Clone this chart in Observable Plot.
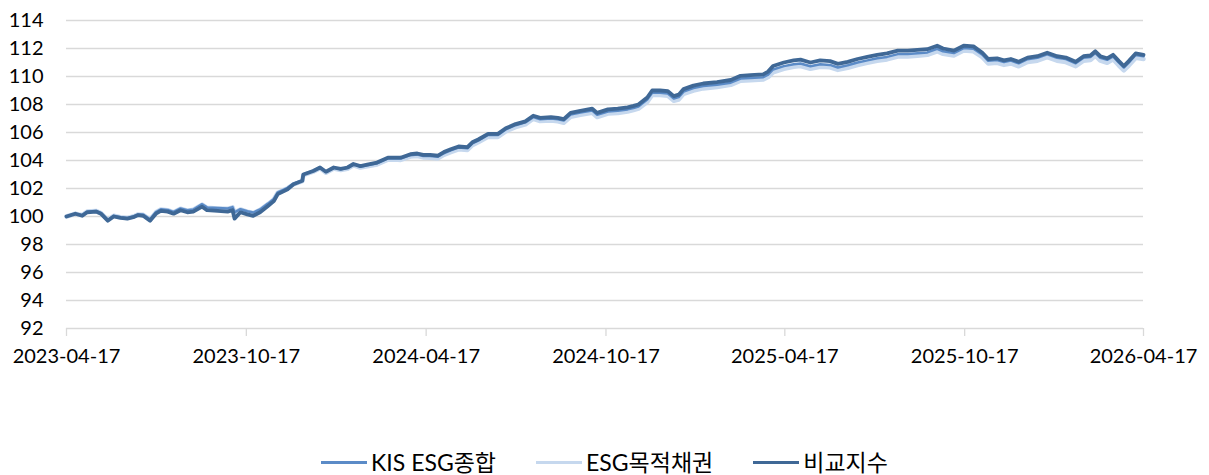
<!DOCTYPE html>
<html><head><meta charset="utf-8">
<script src="https://cdn.jsdelivr.net/npm/d3@7"></script>
<script src="https://cdn.jsdelivr.net/npm/@observablehq/plot@0.6"></script>
<style>
html,body{margin:0;padding:0;background:#fff;}
body{width:1209px;font-family:Lato,"Noto Sans CJK KR",sans-serif;}
#chart svg{display:block;}
#legend{display:flex;justify-content:center;align-items:center;gap:40px;margin-top:70px;height:24px;line-height:24px;font-size:23px;color:#000;font-family:Lato,"Noto Sans CJK KR",sans-serif;}
#legend .item{display:flex;align-items:center;gap:4px;white-space:nowrap;}
#legend .sw{width:46px;height:3px;display:inline-block;}
</style></head>
<body><div id="chart"></div><div id="legend"></div>
<script>
const dates = ["2023-04-17","2023-04-26","2023-05-03","2023-05-08","2023-05-17","2023-05-22","2023-05-29","2023-06-04","2023-06-11","2023-06-18","2023-06-24","2023-06-29","2023-07-04","2023-07-11","2023-07-17","2023-07-22","2023-07-29","2023-08-04","2023-08-11","2023-08-18","2023-08-24","2023-09-02","2023-09-07","2023-09-18","2023-09-28","2023-10-03","2023-10-05","2023-10-11","2023-10-18","2023-10-24","2023-10-31","2023-11-08","2023-11-14","2023-11-18","2023-11-28","2023-12-04","2023-12-13","2023-12-14","2023-12-24","2023-12-31","2024-01-06","2024-01-14","2024-01-21","2024-01-28","2024-02-03","2024-02-10","2024-02-17","2024-02-27","2024-03-09","2024-03-19","2024-03-22","2024-04-01","2024-04-08","2024-04-14","2024-04-21","2024-04-29","2024-05-05","2024-05-12","2024-05-20","2024-05-29","2024-06-03","2024-06-09","2024-06-19","2024-06-29","2024-07-07","2024-07-17","2024-07-27","2024-08-04","2024-08-11","2024-08-22","2024-08-29","2024-09-04","2024-09-11","2024-09-21","2024-10-03","2024-10-08","2024-10-19","2024-10-29","2024-11-08","2024-11-14","2024-11-19","2024-11-28","2024-12-03","2024-12-11","2024-12-19","2024-12-25","2024-12-30","2025-01-04","2025-01-14","2025-01-24","2025-02-07","2025-02-21","2025-03-03","2025-03-13","2025-03-26","2025-03-31","2025-04-05","2025-04-16","2025-04-26","2025-05-03","2025-05-13","2025-05-23","2025-06-02","2025-06-10","2025-06-20","2025-06-30","2025-07-10","2025-07-20","2025-07-30","2025-08-10","2025-08-20","2025-08-30","2025-09-09","2025-09-19","2025-09-25","2025-10-06","2025-10-16","2025-10-26","2025-11-04","2025-11-10","2025-11-19","2025-11-26","2025-12-03","2025-12-11","2025-12-20","2025-12-30","2026-01-09","2026-01-19","2026-01-28","2026-02-07","2026-02-15","2026-02-22","2026-02-27","2026-03-04","2026-03-11","2026-03-17","2026-03-23","2026-03-28","2026-04-02","2026-04-09","2026-04-17"];

const bench = [100.0,100.2,100.05,100.3,100.35,100.2,99.7,100.0,99.9,99.85,99.95,100.1,100.05,99.7,100.2,100.4,100.35,100.2,100.45,100.3,100.35,100.7,100.45,100.4,100.35,100.45,99.85,100.3,100.15,100.05,100.3,100.75,101.1,101.6,101.95,102.3,102.55,103.0,103.25,103.5,103.2,103.5,103.4,103.5,103.75,103.6,103.7,103.85,104.2,104.2,104.2,104.45,104.5,104.4,104.4,104.35,104.6,104.8,105.0,104.95,105.3,105.5,105.9,105.9,106.3,106.6,106.8,107.2,107.05,107.1,107.05,106.95,107.4,107.55,107.7,107.4,107.65,107.7,107.8,107.9,108.0,108.5,109.0,109.0,108.95,108.6,108.7,109.1,109.35,109.5,109.6,109.75,110.05,110.1,110.15,110.35,110.75,111.0,111.15,111.2,111.0,111.15,111.1,110.9,111.05,111.25,111.4,111.55,111.65,111.85,111.85,111.9,111.95,112.2,112.0,111.85,112.2,112.15,111.7,111.25,111.3,111.15,111.25,111.05,111.35,111.45,111.7,111.45,111.35,111.05,111.45,111.5,111.8,111.45,111.3,111.55,111.1,110.75,111.1,111.65,111.55];

const kis = [100.0,100.2,100.1,100.35,100.4,100.25,99.75,100.05,99.95,99.9,100.0,100.15,100.15,99.8,100.32,100.52,100.47,100.33,100.58,100.45,100.5,100.88,100.65,100.6,100.57,100.67,100.3,100.52,100.37,100.28,100.5,100.92,101.25,101.73,102.05,102.35,102.58,103.0,103.25,103.5,103.18,103.48,103.38,103.47,103.72,103.56,103.66,103.8,104.15,104.14,104.14,104.38,104.42,104.32,104.32,104.27,104.52,104.72,104.92,104.87,105.22,105.42,105.82,105.82,106.22,106.52,106.72,107.1,106.95,107.0,106.95,106.85,107.28,107.43,107.57,107.26,107.5,107.55,107.65,107.75,107.85,108.35,108.84,108.84,108.78,108.43,108.53,108.92,109.17,109.32,109.41,109.56,109.85,109.9,109.95,110.14,110.5,110.74,110.88,110.93,110.73,110.88,110.83,110.64,110.8,111.0,111.15,111.3,111.4,111.6,111.6,111.66,111.72,111.98,111.8,111.67,112.03,111.99,111.56,111.12,111.18,111.03,111.14,110.94,111.24,111.34,111.59,111.34,111.24,110.94,111.34,111.39,111.68,111.34,111.19,111.44,110.99,110.64,110.99,111.54,111.45];

const esg = [100.0,100.2,100.1,100.35,100.4,100.25,99.75,100.05,99.95,99.9,100.0,100.15,100.12,99.78,100.3,100.5,100.45,100.3,100.55,100.42,100.48,100.85,100.62,100.58,100.55,100.65,100.28,100.5,100.35,100.25,100.48,100.88,101.22,101.7,102.02,102.3,102.52,102.95,103.2,103.45,103.12,103.42,103.32,103.4,103.65,103.5,103.58,103.72,104.06,104.05,104.04,104.28,104.32,104.22,104.2,104.15,104.4,104.6,104.8,104.75,105.1,105.3,105.7,105.68,106.08,106.38,106.58,106.98,106.82,106.86,106.8,106.7,107.12,107.27,107.4,107.1,107.35,107.4,107.5,107.6,107.7,108.18,108.68,108.68,108.62,108.27,108.36,108.76,109.0,109.15,109.25,109.4,109.7,109.74,109.78,109.96,110.3,110.55,110.7,110.75,110.55,110.7,110.66,110.47,110.62,110.82,110.97,111.12,111.22,111.42,111.42,111.48,111.55,111.8,111.62,111.5,111.85,111.8,111.38,110.93,110.98,110.83,110.93,110.73,111.03,111.13,111.38,111.13,111.03,110.73,111.13,111.18,111.48,111.13,110.98,111.23,110.78,110.43,110.78,111.33,111.25];

const seriesNames = ["KIS ESG종합","ESG목적채권","비교지수"];
const seriesColors = ["#5B8BC7","#C6D8EE","#3F6896"];
const yTicks = [92,94,96,98,100,102,104,106,108,110,112,114];
const xTickLabels = ["2023-04-17","2023-10-17","2024-04-17","2024-10-17","2025-04-17","2025-10-17","2026-04-17"];

const parse = d3.utcParse("%Y-%m-%d");
const rows = [];
dates.forEach((d, i) => {
  rows.push({date: parse(d), value: kis[i], series: seriesNames[0]});
  rows.push({date: parse(d), value: esg[i], series: seriesNames[1]});
  rows.push({date: parse(d), value: bench[i], series: seriesNames[2]});
});
const bySeries = s => rows.filter(r => r.series === s);

const chart = Plot.plot({
  width: 1209,
  height: 380,
  marginLeft: 66,
  marginRight: 66,
  marginTop: 20,
  marginBottom: 52,
  style: {fontFamily: "Lato, 'Noto Sans CJK KR', sans-serif", fontSize: "20px", color: "#000", background: "#fff"},
  x: {type: "utc", domain: [parse(xTickLabels[0]), parse(xTickLabels[xTickLabels.length - 1])]},
  y: {domain: [92, 114]},
  color: {domain: seriesNames, range: seriesColors},
  marks: [
    Plot.gridY(yTicks, {stroke: "#d9d9d9", strokeOpacity: 1, strokeWidth: 1.3}),
    Plot.axisY({ticks: yTicks, tickSize: 0, tickPadding: 23, label: null, fill: "#000"}),
    Plot.axisX({ticks: xTickLabels.map(parse), tickFormat: d3.utcFormat("%Y-%m-%d"), tickSize: 8, tickPadding: 12, stroke: "#d9d9d9", strokeWidth: 1.3, label: null, fill: "#000"}),
    Plot.lineY(bySeries(seriesNames[1]), {x: "date", y: "value", stroke: "series", strokeWidth: 4.5, strokeLinejoin: "round"}),
    Plot.lineY(bySeries(seriesNames[0]), {x: "date", y: "value", stroke: "series", strokeWidth: 2.5, strokeLinejoin: "round"}),
    Plot.lineY(bySeries(seriesNames[2]), {x: "date", y: "value", stroke: "series", strokeWidth: 3.8, strokeLinejoin: "round"})
  ]
});
document.getElementById("chart").appendChild(chart);

const legend = document.getElementById("legend");
seriesNames.forEach((name, i) => {
  const item = document.createElement("div");
  item.className = "item";
  const sw = document.createElement("span");
  sw.className = "sw";
  sw.style.background = seriesColors[i];
  const label = document.createElement("span");
  label.textContent = name;
  item.appendChild(sw);
  item.appendChild(label);
  legend.appendChild(item);
});
</script>
</body></html>
